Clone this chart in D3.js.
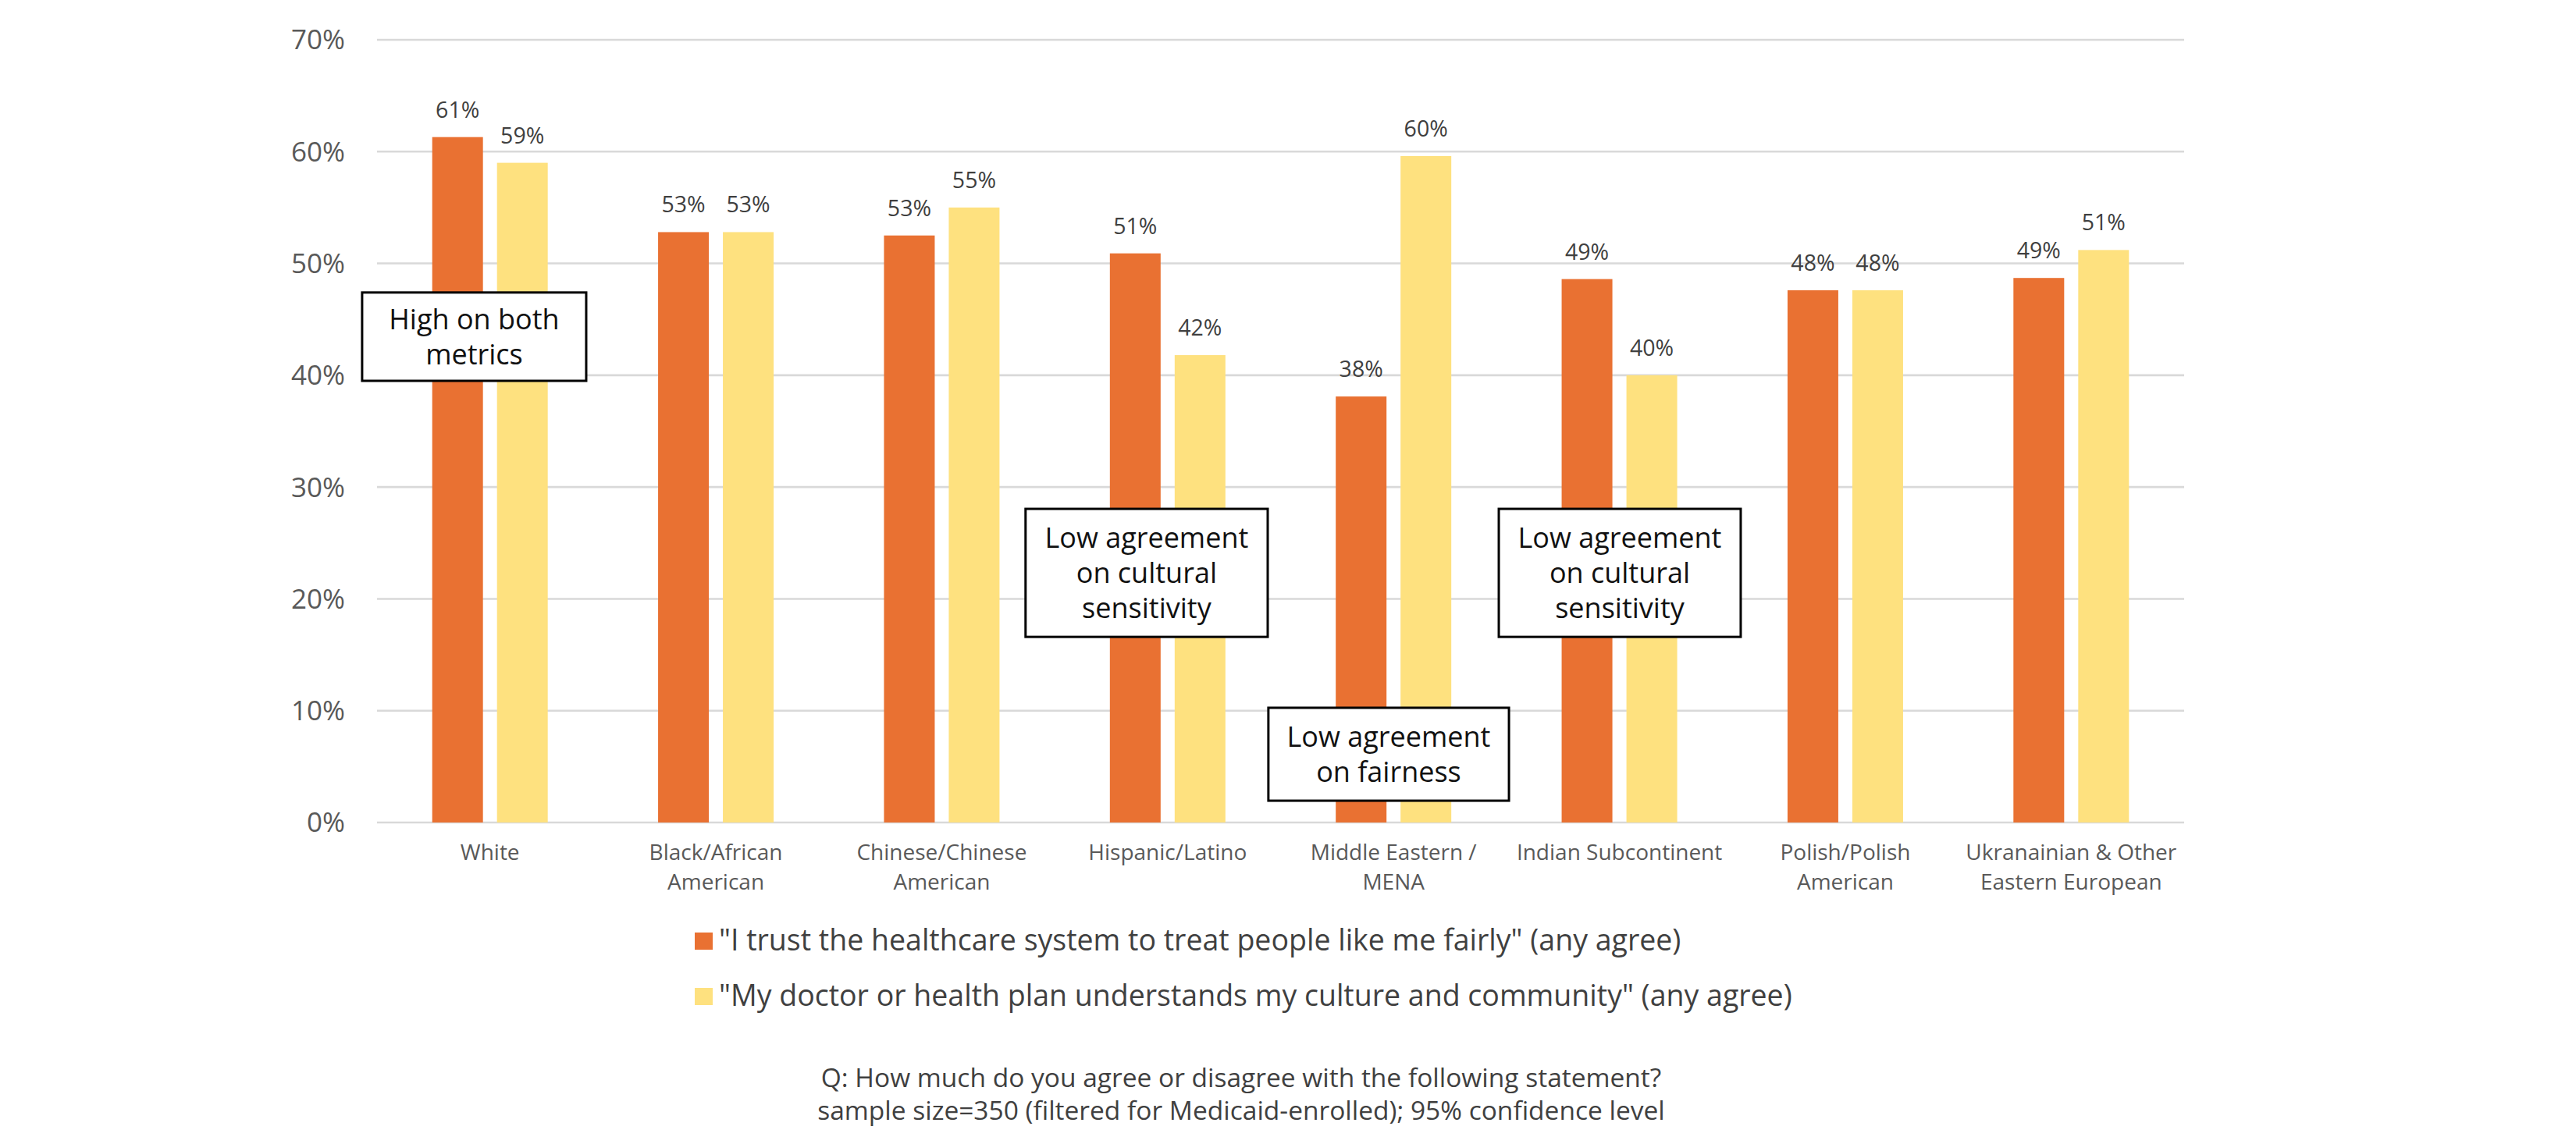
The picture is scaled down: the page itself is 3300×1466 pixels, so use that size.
<!DOCTYPE html>
<html>
<head>
<meta charset="utf-8">
<script src="https://cdn.jsdelivr.net/npm/d3@7"></script>
<style>
  html, body { margin: 0; padding: 0; background: #ffffff; }
  svg { display: block; }
  text { font-family: "Open Sans", "Noto Sans", sans-serif; }
</style>
</head>
<body>
<svg id="chart" width="3300" height="1466"></svg>
<script>
// ---- Data ----
const categories = [
  "White", "Black/African American", "Chinese/Chinese American", "Hispanic/Latino",
  "Middle Eastern / MENA", "Indian Subcontinent", "Polish/Polish American",
  "Ukranainian & Other Eastern European"
];
const categoryLines = [
  ["White"], ["Black/African", "American"], ["Chinese/Chinese", "American"], ["Hispanic/Latino"],
  ["Middle Eastern /", "MENA"], ["Indian Subcontinent"], ["Polish/Polish", "American"],
  ["Ukranainian & Other", "Eastern European"]
];
const seriesNames = [
  "\"I trust the healthcare system to treat people like me fairly\" (any agree)",
  "\"My doctor or health plan understands my culture and community\" (any agree)"
];
const trustValues   = [61.3, 52.8, 52.5, 50.9, 38.1, 48.6, 47.6, 48.7];
const cultureValues = [59.0, 52.8, 55.0, 41.8, 59.6, 40.0, 47.6, 51.2];
const yTicks = [0, 10, 20, 30, 40, 50, 60, 70];
const seriesColors = ["#E97132", "#FEE17F"];

// Annotations: x in category-index units, y in value units
const annotations = [
  { lines: ["High on both", "metrics"], x0: -0.066, x1: 0.926, yTop: 47.4, yBot: 39.5 },
  { lines: ["Low agreement", "on cultural", "sensitivity"], x0: 2.871, x1: 3.943, yTop: 28.05, yBot: 16.6 },
  { lines: ["Low agreement", "on fairness"], x0: 3.946, x1: 5.011, yTop: 10.26, yBot: 1.95 },
  { lines: ["Low agreement", "on cultural", "sensitivity"], x0: 4.966, x1: 6.037, yTop: 28.05, yBot: 16.6 }
];
const footerLines = [
  "Q: How much do you agree or disagree with the following statement?",
  "sample size=350 (filtered for Medicaid-enrolled); 95% confidence level"
];

// ---- Layout ----
const plotLeft = 483, plotRight = 2798, plotTop = 51, plotBottom = 1054;
const svg = d3.select("#chart");

const y = d3.scaleLinear().domain([0, 70]).range([plotBottom, plotTop]);
const groupPad = 1 - 148 / ((plotRight - plotLeft) / categories.length);
const x0 = d3.scaleBand().domain(categories).range([plotLeft, plotRight])
  .paddingInner(groupPad).paddingOuter(groupPad / 2);
const x1 = d3.scaleBand().domain([0, 1]).range([0, x0.bandwidth()]).paddingInner(0.2169);
const xIdx = d3.scaleLinear().domain([0, categories.length]).range([plotLeft, plotRight]);

// Gridlines
svg.append("g")
  .selectAll("line").data(yTicks).join("line")
  .attr("x1", plotLeft).attr("x2", plotRight)
  .attr("y1", d => y(d)).attr("y2", d => y(d))
  .attr("stroke", "#D9D9D9").attr("stroke-width", 2.6);

// Y axis labels
const yAxis = d3.axisLeft(y).tickValues(yTicks).tickFormat(d => d + "%").tickSize(0).tickPadding(41);
const yg = svg.append("g").attr("transform", `translate(${plotLeft},0)`).call(yAxis);
yg.select(".domain").remove();
yg.selectAll("text").attr("font-size", 35).attr("fill", "#595959")
  .attr("font-family", "\"Open Sans\", sans-serif").attr("dy", "0.34em");

// Bars
const seriesData = [trustValues, cultureValues];
const groups = svg.append("g").selectAll("g").data(categories).join("g")
  .attr("transform", d => `translate(${x0(d)},0)`);

groups.selectAll("rect")
  .data((c, i) => seriesData.map((s, k) => ({ k, v: s[i] })))
  .join("rect")
  .attr("x", d => x1(d.k))
  .attr("width", x1.bandwidth())
  .attr("y", d => y(d.v))
  .attr("height", d => y(0) - y(d.v))
  .attr("fill", d => seriesColors[d.k]);

groups.selectAll("text.val")
  .data((c, i) => seriesData.map((s, k) => ({ k, v: s[i] })))
  .join("text")
  .attr("class", "val")
  .attr("x", d => x1(d.k) + x1.bandwidth() / 2)
  .attr("y", d => y(d.v) - 25)
  .attr("text-anchor", "middle")
  .attr("font-size", 28.5)
  .attr("fill", "#404040")
  .text(d => Math.round(d.v) + "%");

// Category labels
const catG = svg.append("g").selectAll("text").data(categories).join("text")
  .attr("text-anchor", "middle")
  .attr("font-size", 28)
  .attr("fill", "#595959")
  .attr("x", d => x0(d) + x0.bandwidth() / 2)
  .attr("y", 1102);
catG.each(function (d, i) {
  const t = d3.select(this);
  categoryLines[i].forEach((ln, j) => {
    t.append("tspan").attr("x", x0(d) + x0.bandwidth() / 2).attr("y", 1102 + j * 38).text(ln);
  });
});

// Annotations
const ann = svg.append("g").selectAll("g").data(annotations).join("g");
ann.append("rect")
  .attr("x", d => xIdx(d.x0)).attr("width", d => xIdx(d.x1) - xIdx(d.x0))
  .attr("y", d => y(d.yTop)).attr("height", d => y(d.yBot) - y(d.yTop))
  .attr("fill", "#ffffff").attr("stroke", "#000000").attr("stroke-width", 3);
ann.each(function (d) {
  const cx = (xIdx(d.x0) + xIdx(d.x1)) / 2;
  const cy = (y(d.yTop) + y(d.yBot)) / 2;
  const lh = 45;
  const n = d.lines.length;
  const t = d3.select(this).append("text")
    .attr("text-anchor", "middle").attr("font-size", 36).attr("fill", "#111111");
  d.lines.forEach((ln, j) => {
    t.append("tspan").attr("x", cx)
      .attr("y", cy + (j - (n - 1) / 2) * lh + 13).text(ln);
  });
});

// Legend
const legend = svg.append("g").selectAll("g").data(seriesNames).join("g")
  .attr("transform", (d, i) => `translate(890, ${1217 + i * 71})`);
legend.append("rect").attr("x", 0).attr("y", -22).attr("width", 23).attr("height", 22)
  .attr("fill", (d, i) => seriesColors[i]);
legend.append("text").attr("x", 31).attr("y", 1)
  .attr("font-size", 37.5).attr("fill", "#404040").text(d => d);

// Footer
svg.append("g").selectAll("text").data(footerLines).join("text")
  .attr("x", 1590).attr("y", (d, i) => 1393 + i * 42)
  .attr("text-anchor", "middle").attr("font-size", 33.5).attr("fill", "#404040")
  .text(d => d);
</script>
</body>
</html>
